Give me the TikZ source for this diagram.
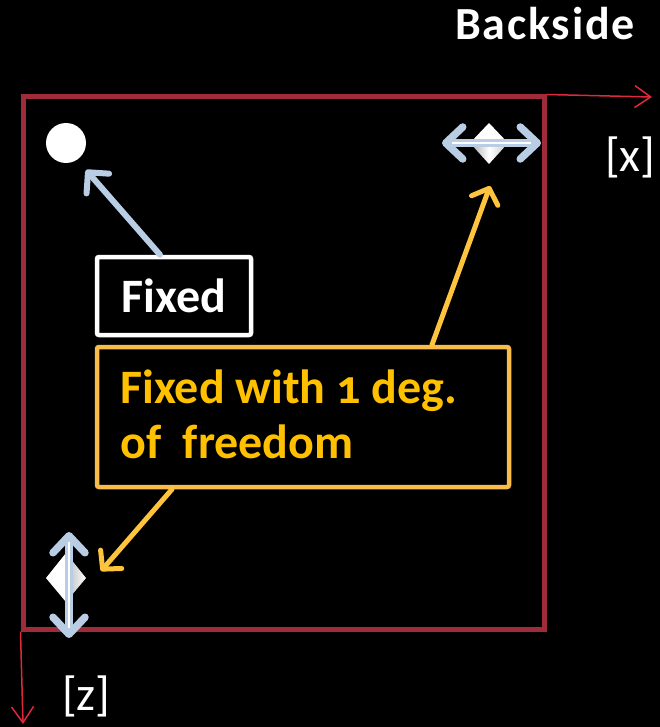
\documentclass[tikz,border=0pt]{standalone}
\usepackage{fontspec}
\setmainfont{Carlito}
\usetikzlibrary{arrows.meta}
\definecolor{frameRed}{HTML}{A02B3B}
\definecolor{axisRed}{HTML}{E0283C}
\definecolor{lblue}{HTML}{B9CDE5}
\definecolor{oborder}{HTML}{F8BC48}
\definecolor{otext}{HTML}{FFC000}
\definecolor{oarrow}{HTML}{FFC43D}
\tikzset{
  framebox/.style={draw=frameRed, line width=5pt, rectangle, inner sep=0pt},
  axisarrow/.style={draw=axisRed, line width=1.5pt, -{Straight Barb[length=16pt,width=22pt]}},
  bluearrow/.style={draw=lblue, line width=6pt, line cap=round, -{Straight Barb[length=15pt,width=30pt,line cap=round,line join=round]}},
  dblarrow/.style={draw=lblue, line width=7.5pt, {Straight Barb[length=17pt,width=32pt,line cap=round,line join=round]}-{Straight Barb[length=17pt,width=32pt,line cap=round,line join=round]}},
  orangearrow/.style={draw=oarrow, line width=5pt, line cap=round, -{Straight Barb[length=13pt,width=28pt,line cap=round,line join=round]}},
  whitebox/.style={draw=white, line width=4.5pt, rounded corners=2pt, rectangle, inner sep=0pt, text=white, font=\fontsize{48}{58}\selectfont\bfseries},
  orangebox/.style={draw=oborder, line width=4.5pt, rounded corners=2pt, rectangle, inner sep=0pt},
  orangetext/.style={text=otext, inner sep=0pt, anchor=base west, font=\fontsize{48}{58}\selectfont\bfseries\addfontfeatures{Numbers=OldStyle}},
  axislabel/.style={text=white, inner sep=0pt, anchor=base west, font=\fontsize{48}{58}\selectfont},
  titlelabel/.style={text=white, inner sep=0pt, anchor=base west, font=\fontsize{46}{56}\selectfont\bfseries\addfontfeatures{LetterSpace=4}}
}
\begin{document}
\begin{tikzpicture}[x=1pt,y=-1pt]
\fill[black] (0,0) rectangle (660,727);
\useasboundingbox (0,0) rectangle (660,727);

% frame
\node[framebox, minimum width=521pt, minimum height=532pt] (frame) at (283.5,363) {};

% axes
\coordinate (xend) at (652,97);
\coordinate (zend) at (23,724);
\draw[axisarrow] (frame.north east) -- (xend);
\draw[axisarrow] (frame.south west) -- (zend);

% labels
\node[titlelabel] (backside) at (455,40) {Backside};
\node[axislabel] (xlab) at (605,172) {[x]};
\node[axislabel] (zlab) at (62,710) {[z]};

% fixed point
\node[circle, fill=white, minimum size=40pt, inner sep=0pt] (dot) at (66,143) {};

% horizontal sliding support
\fill[white] (470,143) -- (489,123) -- (508,143) -- cycle;
\shade[left color=gray!70, right color=gray!45, middle color=white] (470,143) -- (508,143) -- (489,164) -- cycle;
\coordinate (hL) at (442,143);
\coordinate (hR) at (541,143);
\draw[dblarrow] (hL) -- (hR);
\draw[white, line width=2pt] (452,143) -- (531,143);

% vertical sliding support
\fill[white] (66,553) -- (46,578) -- (66,602) -- cycle;
\shade[left color=gray!55, right color=white] (66,553) -- (86,578) -- (66,602) -- cycle;
\coordinate (vT) at (69,532);
\coordinate (vB) at (69,638);
\draw[dblarrow] (vT) -- (vB);
\draw[white, line width=2pt] (69,542) -- (69,628);

% Fixed box
\node[whitebox, minimum width=154pt, minimum height=78pt] (fixbox) at (174,296) {Fixed};
\coordinate (tipA) at (86,170);
\draw[bluearrow] ([xshift=-14pt]fixbox.north) -- (tipA);

% orange box
\node[orangebox, minimum width=412pt, minimum height=140pt] (dofbox) at (303,417) {};
\node[orangetext] (dof1) at (120,403) {Fixed with 1 deg.};
\node[orangetext] (dof2) at (120,458) {of~~freedom};
\coordinate (tipB) at (490,186);
\coordinate (tipC) at (101,571);
\draw[orangearrow] ([xshift=129pt]dofbox.north) -- (tipB);
\draw[orangearrow] ([xshift=-131pt]dofbox.south) -- (tipC);
\end{tikzpicture}
\end{document}
